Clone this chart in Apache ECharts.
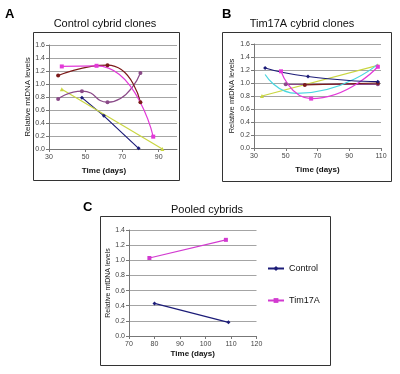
<!DOCTYPE html>
<html>
<head>
<meta charset="utf-8">
<script src="https://cdn.jsdelivr.net/npm/echarts@6/dist/echarts.min.js"></script>
<style>
html,body{margin:0;padding:0;background:#fff;}
#chart{width:400px;height:374px;}
</style>
</head>
<body>
<div id="chart"></div>
<script>
// ---- Panel A: Control cybrid clones ([days, relative mtDNA]) ----
const aNavy    = [[48, 0.79], [60, 0.51], [79, 0.01]];
const aYellow  = [[37, 0.92], [92, 0.00]];
const aPurple  = [[35, 0.77], [48, 0.89], [62, 0.72], [80, 1.17]];
const aMaroon  = [[35, 1.13], [62, 1.29], [80, 0.72]];
const aMagenta = [[37, 1.27], [56, 1.28], [87, 0.19]];
const aXTicks  = [30, 50, 70, 90];

// ---- Panel B: Tim17A cybrid clones ----
const bNavy    = [[37, 1.23], [64, 1.10], [108, 1.02]];
const bMagenta = [[47, 1.18], [66, 0.76], [108, 1.25]];
const bYellow  = [[35, 0.80], [108, 1.27]];
const bCyan    = [[37, 1.13], [57, 0.84], [108, 1.29]];
const bPurple  = [[50, 0.98], [108, 0.98]];
const bMaroon  = [[62, 0.97], [108, 1.00]];

// ---- Panel C: Pooled cybrids ----
const cControl = [[80, 0.43], [109, 0.18]];
const cTim17A  = [[78, 1.03], [108, 1.27]];

const FONT = "'Liberation Sans', Arial, sans-serif";
const NAVY = '#1c1c78', MAG = '#e23ad8', YEL = '#c9d640', PUR = '#8a4a88', MAR = '#7c1a1a', CYA = '#4ad6e0';

function xAxisBase(gi, min, max, interval, gap, extra) {
  return Object.assign({
    type: 'value', gridIndex: gi, min: min, max: max, interval: interval,
    name: 'Time (days)', nameLocation: 'middle', nameGap: gap,
    nameTextStyle: {fontFamily: FONT, fontSize: 8, fontWeight: 'bold', color: '#111'},
    axisLine: {show: true, lineStyle: {color: '#777', width: 1}},
    axisTick: {show: true, length: 3, lineStyle: {color: '#777'}},
    axisLabel: {fontFamily: FONT, fontSize: 7, color: '#444', margin: 5},
    splitLine: {show: false}
  }, extra || {});
}
function yAxisBase(gi, max, gap, nameSize) {
  return {
    type: 'value', gridIndex: gi, min: 0, max: max, interval: 0.2,
    name: 'Relative mtDNA levels', nameLocation: 'middle', nameGap: gap, nameRotate: 90,
    nameTextStyle: {fontFamily: FONT, fontSize: nameSize, color: '#222'},
    axisLine: {show: true, lineStyle: {color: '#777', width: 1}},
    axisTick: {show: true, length: 3, lineStyle: {color: '#777'}},
    axisLabel: {fontFamily: FONT, fontSize: 7, color: '#444', margin: 4,
      formatter: function (v) { return v.toFixed(1); }},
    splitLine: {show: true, lineStyle: {color: '#a4a4a4', width: 1}}
  };
}
function ser(name, data, gi, color, symbol, smooth) {
  return {
    name: name, type: 'line', xAxisIndex: gi, yAxisIndex: gi, data: data,
    smooth: smooth ? 0.6 : false, symbol: symbol, symbolSize: 4,
    lineStyle: {color: color, width: 1.2}, itemStyle: {color: color},
    emphasis: {disabled: true}, animation: false
  };
}

const chart = echarts.init(document.getElementById('chart'), null, {renderer: 'canvas'});
chart.setOption({
  animation: false,
  backgroundColor: '#fff',
  grid: [
    {left: 49, top: 45, width: 128, height: 104},
    {left: 254, top: 44, width: 127, height: 104},
    {left: 129, top: 230, width: 127.5, height: 106}
  ],
  xAxis: [
    xAxisBase(0, 30, 100, 20, 18, {
      nameTextStyle: {fontFamily: FONT, fontSize: 8, fontWeight: 'bold', color: '#111', padding: [0, 18, 0, 0]},
      axisLabel: {fontFamily: FONT, fontSize: 7, color: '#444', margin: 5, customValues: aXTicks},
      axisTick: {show: true, length: 3, lineStyle: {color: '#777'}, customValues: aXTicks}
    }),
    xAxisBase(1, 30, 110, 20, 18),
    xAxisBase(2, 70, 120, 10, 14)
  ],
  yAxis: [
    yAxisBase(0, 1.6, 10, 8),
    yAxisBase(1, 1.6, 15, 7.5),
    yAxisBase(2, 1.4, 13, 7)
  ],
  legend: [
    {data: ['Control'], left: 267, top: 264, itemWidth: 16, itemHeight: 6, padding: 0,
     textStyle: {fontFamily: FONT, fontSize: 9, color: '#111'}},
    {data: ['Tim17A'], left: 267, top: 296, itemWidth: 16, itemHeight: 6, padding: 0,
     textStyle: {fontFamily: FONT, fontSize: 9, color: '#111'}}
  ],
  series: [
    ser('A navy', aNavy, 0, NAVY, 'diamond', false),
    ser('A yellow', aYellow, 0, YEL, 'triangle', false),
    ser('A purple', aPurple, 0, PUR, 'circle', true),
    ser('A maroon', aMaroon, 0, MAR, 'circle', true),
    ser('A magenta', aMagenta, 0, MAG, 'rect', true),

    ser('B yellow', bYellow, 1, YEL, 'triangle', false),
    ser('B purple', bPurple, 1, PUR, 'circle', false),
    ser('B maroon', bMaroon, 1, MAR, 'circle', false),
    ser('B cyan', bCyan, 1, CYA, 'none', true),
    ser('B magenta', bMagenta, 1, MAG, 'rect', true),
    ser('B navy', bNavy, 1, NAVY, 'diamond', true),

    ser('Control', cControl, 2, NAVY, 'diamond', false),
    ser('Tim17A', cTim17A, 2, '#d23ad0', 'rect', false)
  ],
  graphic: [
    {type: 'rect', shape: {x: 33.5, y: 32.5, width: 146, height: 148}, style: {fill: 'none', stroke: '#333', lineWidth: 1}, silent: true},
    {type: 'rect', shape: {x: 222.5, y: 32.5, width: 169, height: 149}, style: {fill: 'none', stroke: '#333', lineWidth: 1}, silent: true},
    {type: 'rect', shape: {x: 100.5, y: 216.5, width: 230, height: 149}, style: {fill: 'none', stroke: '#333', lineWidth: 1}, silent: true},
    {type: 'text', x: 105, y: 24, style: {text: 'Control cybrid clones', font: '11px ' + FONT, fill: '#111', textAlign: 'center', textVerticalAlign: 'middle'}, silent: true},
    {type: 'text', x: 302, y: 24, style: {text: 'Tim17A cybrid clones', font: '11px ' + FONT, fill: '#111', textAlign: 'center', textVerticalAlign: 'middle'}, silent: true},
    {type: 'text', x: 207, y: 210, style: {text: 'Pooled cybrids', font: '11px ' + FONT, fill: '#111', textAlign: 'center', textVerticalAlign: 'middle'}, silent: true},
    {type: 'text', x: 5, y: 14, style: {text: 'A', font: 'bold 13px ' + FONT, fill: '#000', textAlign: 'left', textVerticalAlign: 'middle'}, silent: true},
    {type: 'text', x: 222, y: 14, style: {text: 'B', font: 'bold 13px ' + FONT, fill: '#000', textAlign: 'left', textVerticalAlign: 'middle'}, silent: true},
    {type: 'text', x: 83, y: 207, style: {text: 'C', font: 'bold 13px ' + FONT, fill: '#000', textAlign: 'left', textVerticalAlign: 'middle'}, silent: true}
  ]
});
</script>
</body>
</html>
